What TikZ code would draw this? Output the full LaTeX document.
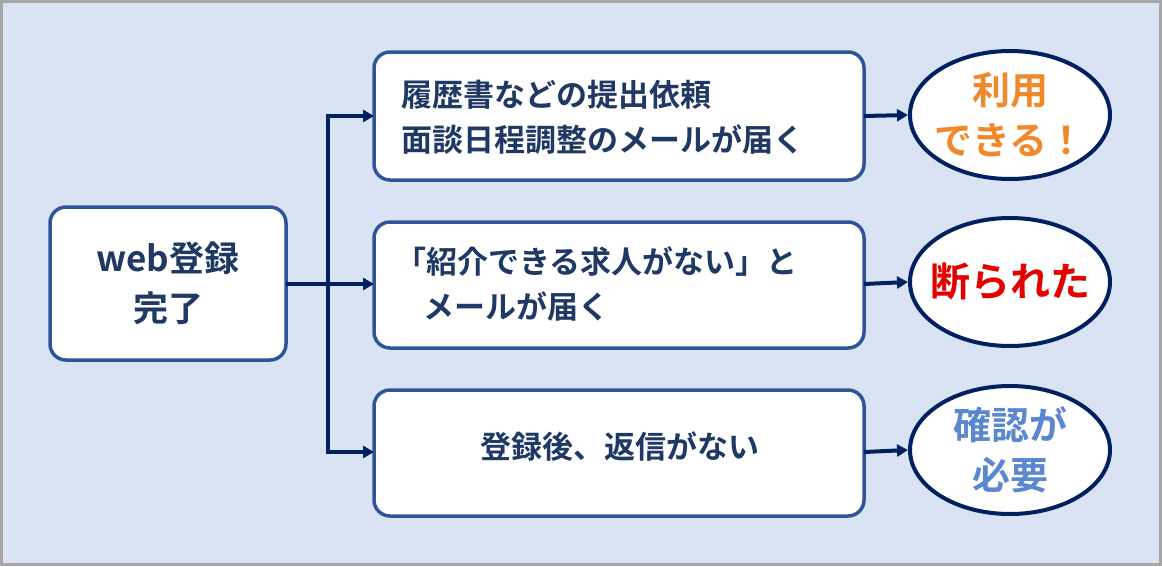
\documentclass[tikz,border=0pt]{standalone}
\usepackage{fontspec}
\setmainfont{Noto Sans CJK JP}[BoldFont={* Bold}]
\usetikzlibrary{shapes.geometric,arrows.meta}
\definecolor{bg}{HTML}{DAE3F3}
\definecolor{frame}{HTML}{A6A6A6}
\definecolor{boxline}{HTML}{2F5597}
\definecolor{navy}{HTML}{002060}
\definecolor{txt}{HTML}{1F3864}
\definecolor{orangeT}{HTML}{F0892A}
\definecolor{blueT}{HTML}{5B86D0}
\tikzset{
 box/.style={draw=boxline,line width=3.5pt,fill=white,rounded corners=16pt},
 oval/.style={draw=navy,line width=4pt,fill=white,ellipse,inner sep=0pt,minimum width=200pt,minimum height=128pt},
 ovaltext/.style={align=center,font=\fontsize{38}{50}\selectfont\bfseries},
 lbl/.style={text=txt,font=\fontsize{31}{45}\selectfont\bfseries,align=left},
 conn/.style={draw=navy,line width=4pt,-{Triangle[length=11pt,width=12pt]}}
}
\begin{document}
\begin{tikzpicture}[x=1pt,y=-1pt]
\draw[fill=bg,draw=frame,line width=3pt] (1.5,1.5) rectangle (1160.5,564.5);
\useasboundingbox (0,0) rectangle (1162,566);
\draw[box] (50,207) rectangle (286,360);
\node[lbl,align=center,font=\fontsize{35}{50}\selectfont\bfseries] (start) at (168,283) {web登録\\完了};
\coordinate (sR) at (286,284);
\draw[box] (374,52) rectangle (864,180);
\draw[box] (374,222) rectangle (864,348);
\draw[box] (374,390) rectangle (864,516);
\coordinate (b1L) at (374,116); \coordinate (b2L) at (374,284); \coordinate (b3L) at (374,452);
\coordinate (b1R) at (864,116); \coordinate (b2R) at (864,284); \coordinate (b3R) at (864,452);
\node[lbl,anchor=west] (t1) at (398,117) {履歴書などの提出依頼\\面談日程調整のメールが届く};
\node[lbl,anchor=west] (t2) at (392,284) {「紹介できる求人がない」と\\\hspace*{0.9em}メールが届く};
\node[lbl] (t3) at (620,447) {登録後、返信がない};
\node[oval] (e1) at (1010,115) {};
\node[oval] (e2) at (1010,282) {};
\node[oval] (e3) at (1010,450) {};
\node[ovaltext,text=orangeT] (l1) at (e1) {利用\\できる！};
\node[ovaltext,text=red!90!black,font=\fontsize{40}{50}\selectfont\bfseries] (l2) at (e2) {断られた};
\node[ovaltext,text=blueT] (l3) at (e3) {確認が\\必要};
\coordinate (j) at (328,284);
\draw[navy,line width=4pt] (sR) -- (j);
\draw[conn] (j) |- (b1L);
\draw[conn] (j) -- (b2L);
\draw[conn] (j) |- (b3L);
\draw[conn] (b1R) -- (e1.west);
\draw[conn] (b2R) -- (e2.west);
\draw[conn] (b3R) -- (e3.west);
\end{tikzpicture}
\end{document}
